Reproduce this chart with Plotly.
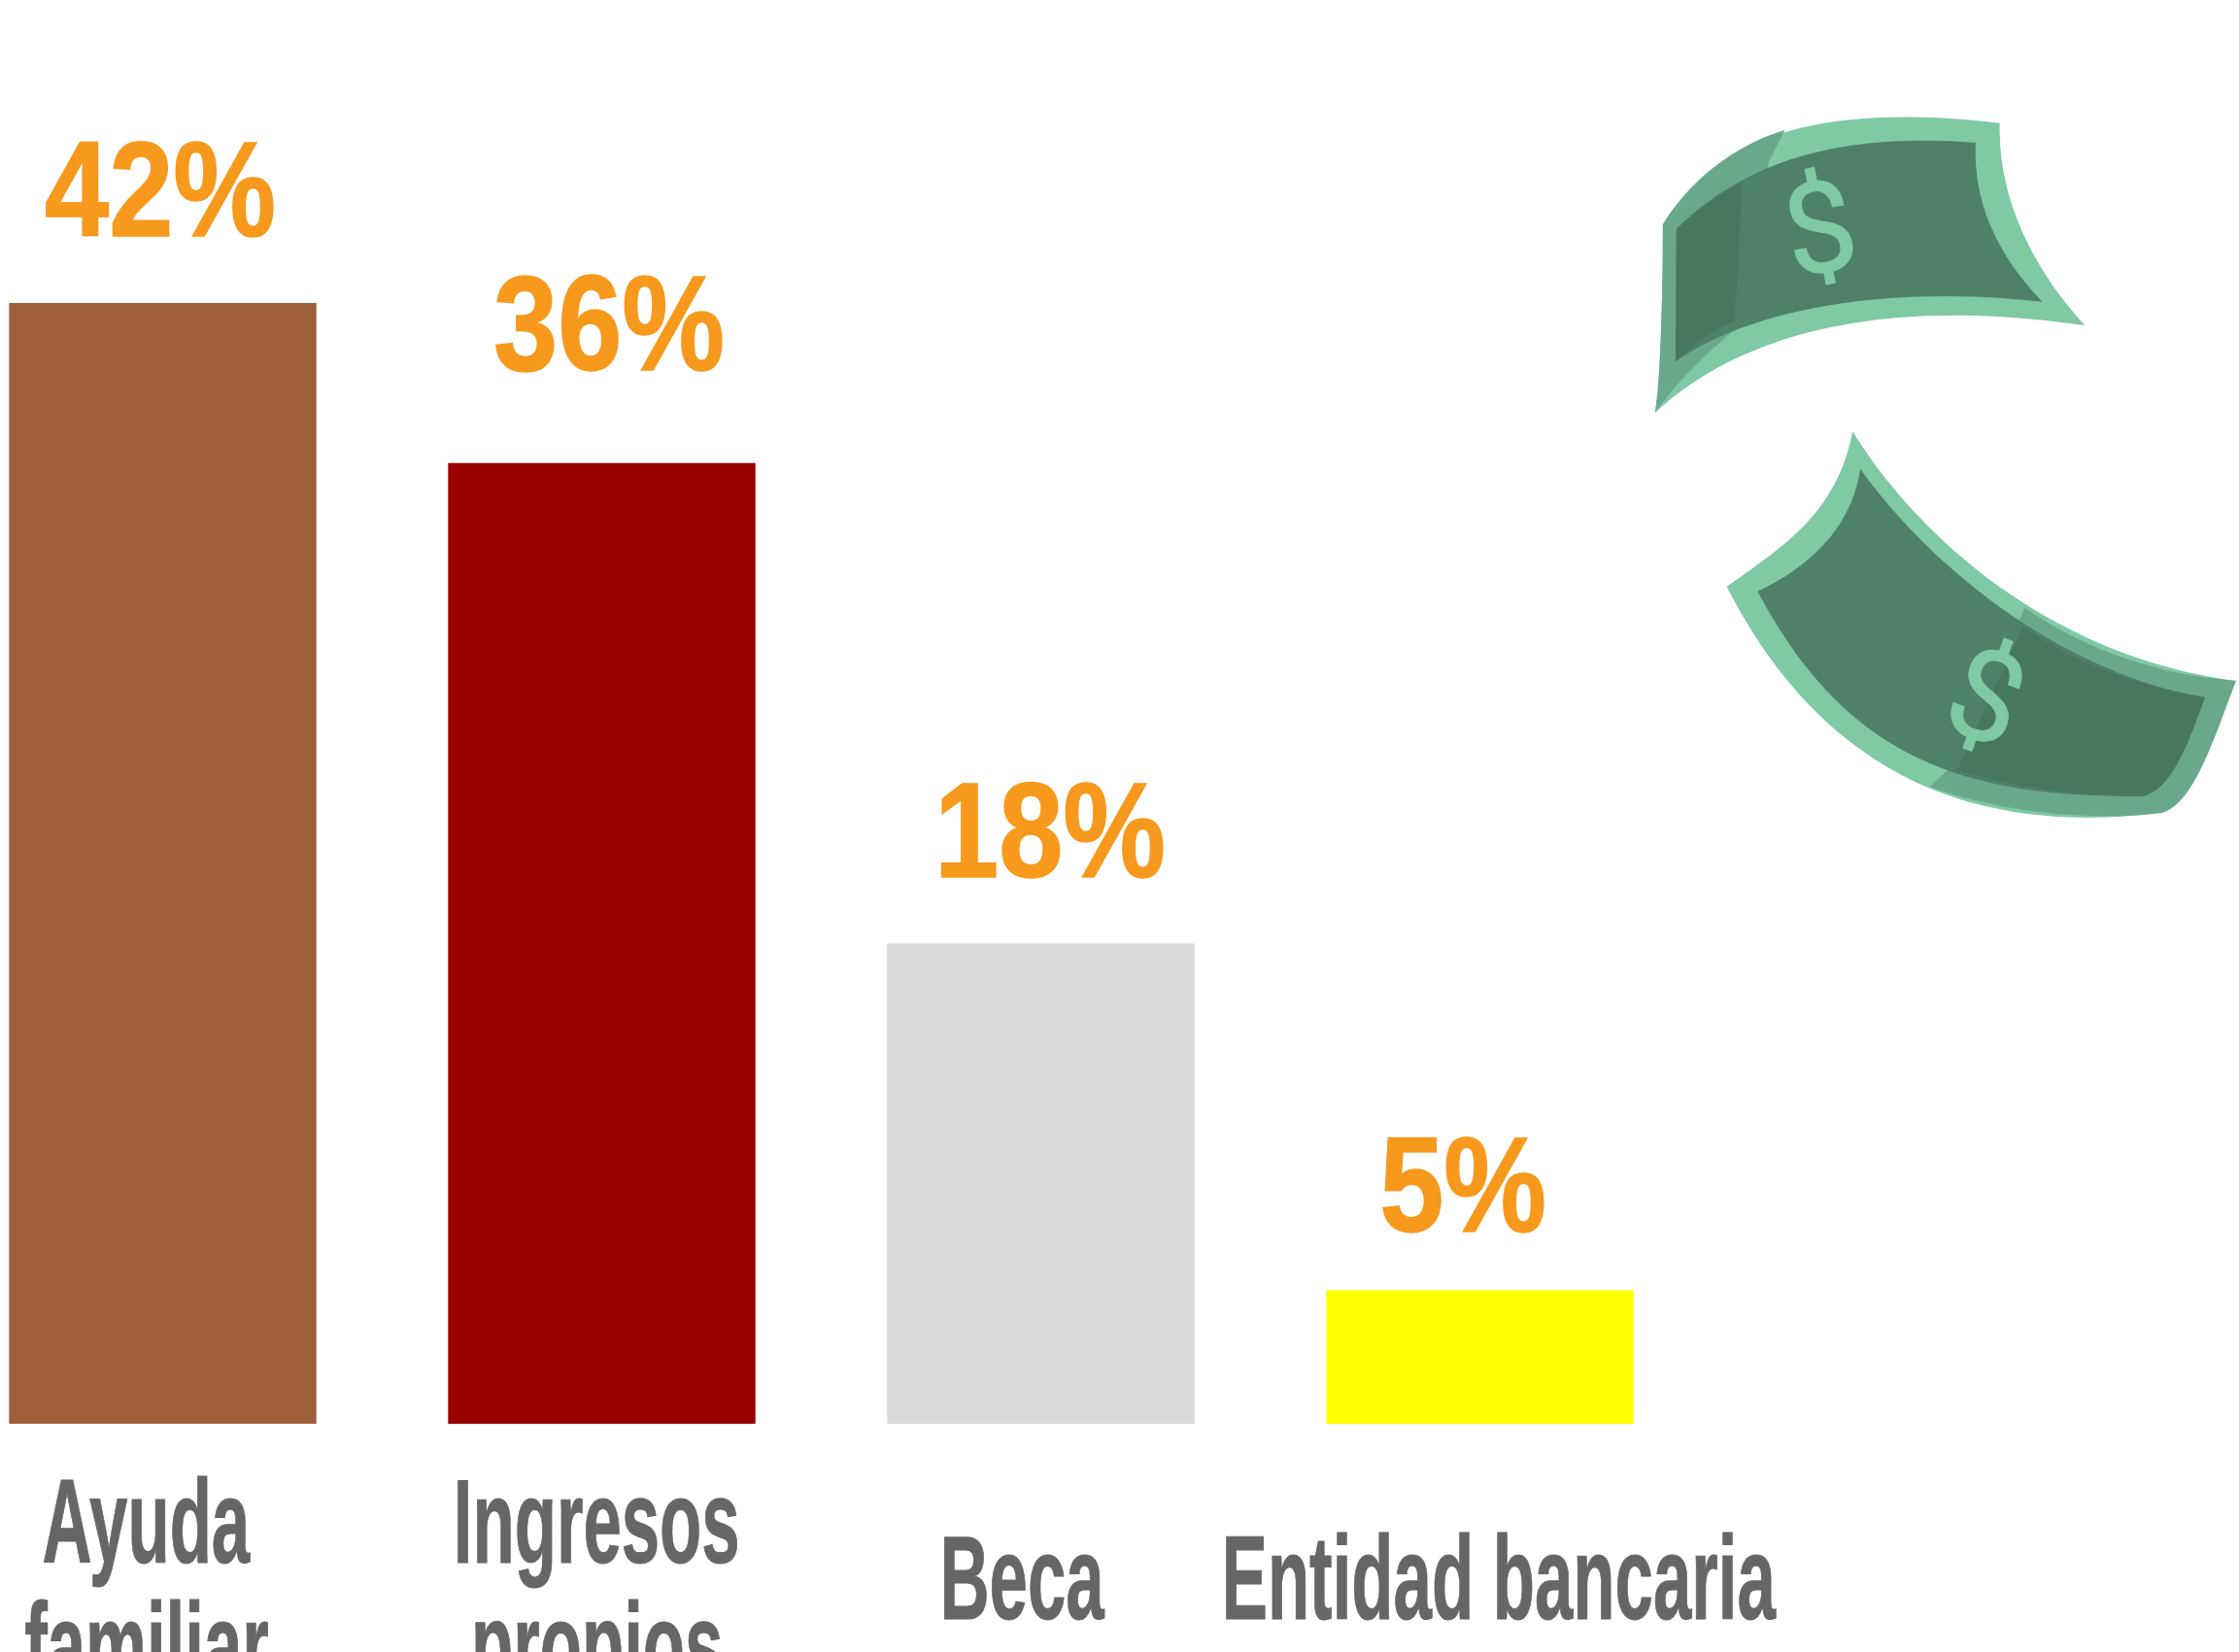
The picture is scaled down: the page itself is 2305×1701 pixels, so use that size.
import plotly.graph_objects as go

categories = ["Ayuda familiar", "Ingresos propios", "Beca", "Entidad bancaria"]
values = [42, 36, 18, 5]
value_labels = ["42%", "36%", "18%", "5%"]
label_lines = [["Ayuda", "familiar"], ["Ingresos", "propios"], ["Beca"], ["Entidad bancaria"]]
bar_colors = ["#9E5F3A", "#990000", "#D9D9D9", "#FFFF00"]

W, H = 2305, 1701
FONT = "Liberation Sans"
ORANGE = "#F7991C"
GREY = "#666666"
LIGHT = "#7FC9A5"
RIM = "#6AA88B"
INNER = "#4F806A"
DEEP = "#48775F"

# horizontal / vertical offsets of the text, in pixels
value_dx = [-3, 7, 9, -18]
value_dy = [37, 64, 36, 29]
label_dx = [-17, -5, -19, 19]
label_top = [[31, 158], [31, 158], [89], [89]]


def zx(v):
    return (1680 + v * 0.3986) / W


def zy(v):
    return 1 - (100 + v * 0.4847) / H


def path(*segments):
    out = []
    for cmd, *pts in segments:
        coords = " ".join(f"{zx(pts[i]):.5f},{zy(pts[i + 1]):.5f}" for i in range(0, len(pts), 2))
        out.append(f"{cmd}{coords}")
    return " ".join(out) + " Z"


def blob(color, *segments):
    return dict(type="path", xref="paper", yref="paper", path=path(*segments),
                fillcolor=color, line=dict(width=0), layer="above")


bill_shapes = [
    # upper bill
    blob(LIGHT, ("M", 80, 270), ("C", 200, 110, 420, 5, 950, 55),
         ("C", 945, 200, 1020, 350, 1170, 485), ("C", 800, 440, 350, 450, 60, 670),
         ("C", 75, 600, 80, 400, 80, 270)),
    blob(RIM, ("M", 80, 270), ("C", 160, 170, 270, 100, 395, 70), ("L", 355, 135, 110, 290, 110, 560),
         ("L", 270, 490, 300, 510), ("C", 200, 540, 130, 590, 60, 670), ("C", 75, 600, 80, 400, 80, 270)),
    blob(INNER, ("M", 115, 280), ("C", 300, 130, 550, 75, 888, 97),
         ("C", 880, 230, 950, 340, 1060, 435), ("C", 700, 400, 320, 440, 113, 562), ("L", 115, 280)),
    blob(DEEP, ("M", 115, 280), ("C", 170, 240, 220, 210, 285, 180), ("L", 265, 475), ("C", 210, 495, 160, 525, 113, 562)),
    # lower bill
    blob(LIGHT, ("M", 570, 710), ("C", 750, 950, 1100, 1190, 1560, 1240),
         ("C", 1500, 1370, 1450, 1500, 1370, 1520), ("C", 900, 1570, 500, 1450, 245, 1040),
         ("C", 400, 950, 530, 880, 570, 710)),
    blob(RIM, ("M", 1015, 1085), ("C", 1200, 1190, 1400, 1230, 1560, 1240),
         ("C", 1500, 1370, 1450, 1500, 1370, 1520), ("C", 1200, 1540, 950, 1520, 770, 1465),
         ("L", 815, 1430)),
    blob(INNER, ("M", 590, 790), ("C", 800, 1030, 1150, 1230, 1480, 1275),
         ("C", 1430, 1390, 1390, 1470, 1320, 1485), ("C", 850, 1490, 550, 1400, 325, 1050),
         ("C", 480, 990, 570, 900, 590, 790)),
    blob(DEEP, ("M", 1010, 1125), ("C", 1150, 1205, 1300, 1250, 1480, 1275),
         ("C", 1430, 1390, 1390, 1470, 1320, 1485), ("C", 1150, 1485, 1000, 1470, 840, 1430)),
]

unit = (1466 - 312) / 42
step = 452
fig = go.Figure(go.Bar(x=categories, y=values, marker=dict(color=bar_colors, line=dict(width=0)), width=0.7,
                       hoverinfo="skip"))

annotations = []
for cat, val, txt, dx, dy in zip(categories, values, value_labels, value_dx, value_dy):
    annotations.append(dict(x=cat, y=val, xref="x", yref="y", text=f"<b>{txt}</b>", showarrow=False, xanchor="center",
                            yanchor="bottom", xshift=dx, yshift=dy,
                            font=dict(family=FONT, size=140, color=ORANGE)))
for cat, lines, dx, tops in zip(categories, label_lines, label_dx, label_top):
    for line, top in zip(lines, tops):
        annotations.append(dict(x=cat, y=0, xref="x", yref="y", text=f"<b>{line}</b>", showarrow=False,
                                xanchor="center", yanchor="top", xshift=dx, yshift=-top,
                                font=dict(family=FONT, size=122, color=GREY)))
for txt_x, txt_y, angle in [(485, 280, -11), (915, 1275, 20)]:
    annotations.append(dict(x=zx(txt_x), y=zy(txt_y), xref="paper", yref="paper", text="$", showarrow=False,
                            xanchor="center", yanchor="middle", textangle=angle,
                            font=dict(family="Roboto", size=130, color=LIGHT)))

fig.update_layout(
    width=W, height=H, margin=dict(l=0, r=0, t=0, b=0), paper_bgcolor="white", plot_bgcolor="white",
    showlegend=False, shapes=bill_shapes, annotations=annotations,
    xaxis=dict(type="category", range=[-167.5 / step, (W - 167.5) / step], visible=False),
    yaxis=dict(range=[-(H - 1466) / unit, 1466 / unit], visible=False),
)

post = """
document.body.style.margin = '0';
var gd = document.getElementsByClassName('plotly-graph-div')[0];
gd.querySelectorAll('.annotation-text').forEach(function (t) {
  var txt = t.textContent, s = 1, w = 1;
  if (txt.indexOf('%') >= 0) { s = 0.85; w = 1.5; }
  else if (/[A-Za-z]/.test(txt)) { s = 0.58; w = 1; }
  t.style.stroke = t.style.fill;
  t.style.strokeWidth = w + 'px';
  if (s === 1) return;
  var b = t.getBBox(), c = b.x + b.width / 2;
  t.setAttribute('transform', 'translate(' + c + ',0) scale(' + s + ',1) translate(' + (-c) + ',0)');
});
"""
fig.write_html("out.html", post_script=post, config={"displayModeBar": False})
